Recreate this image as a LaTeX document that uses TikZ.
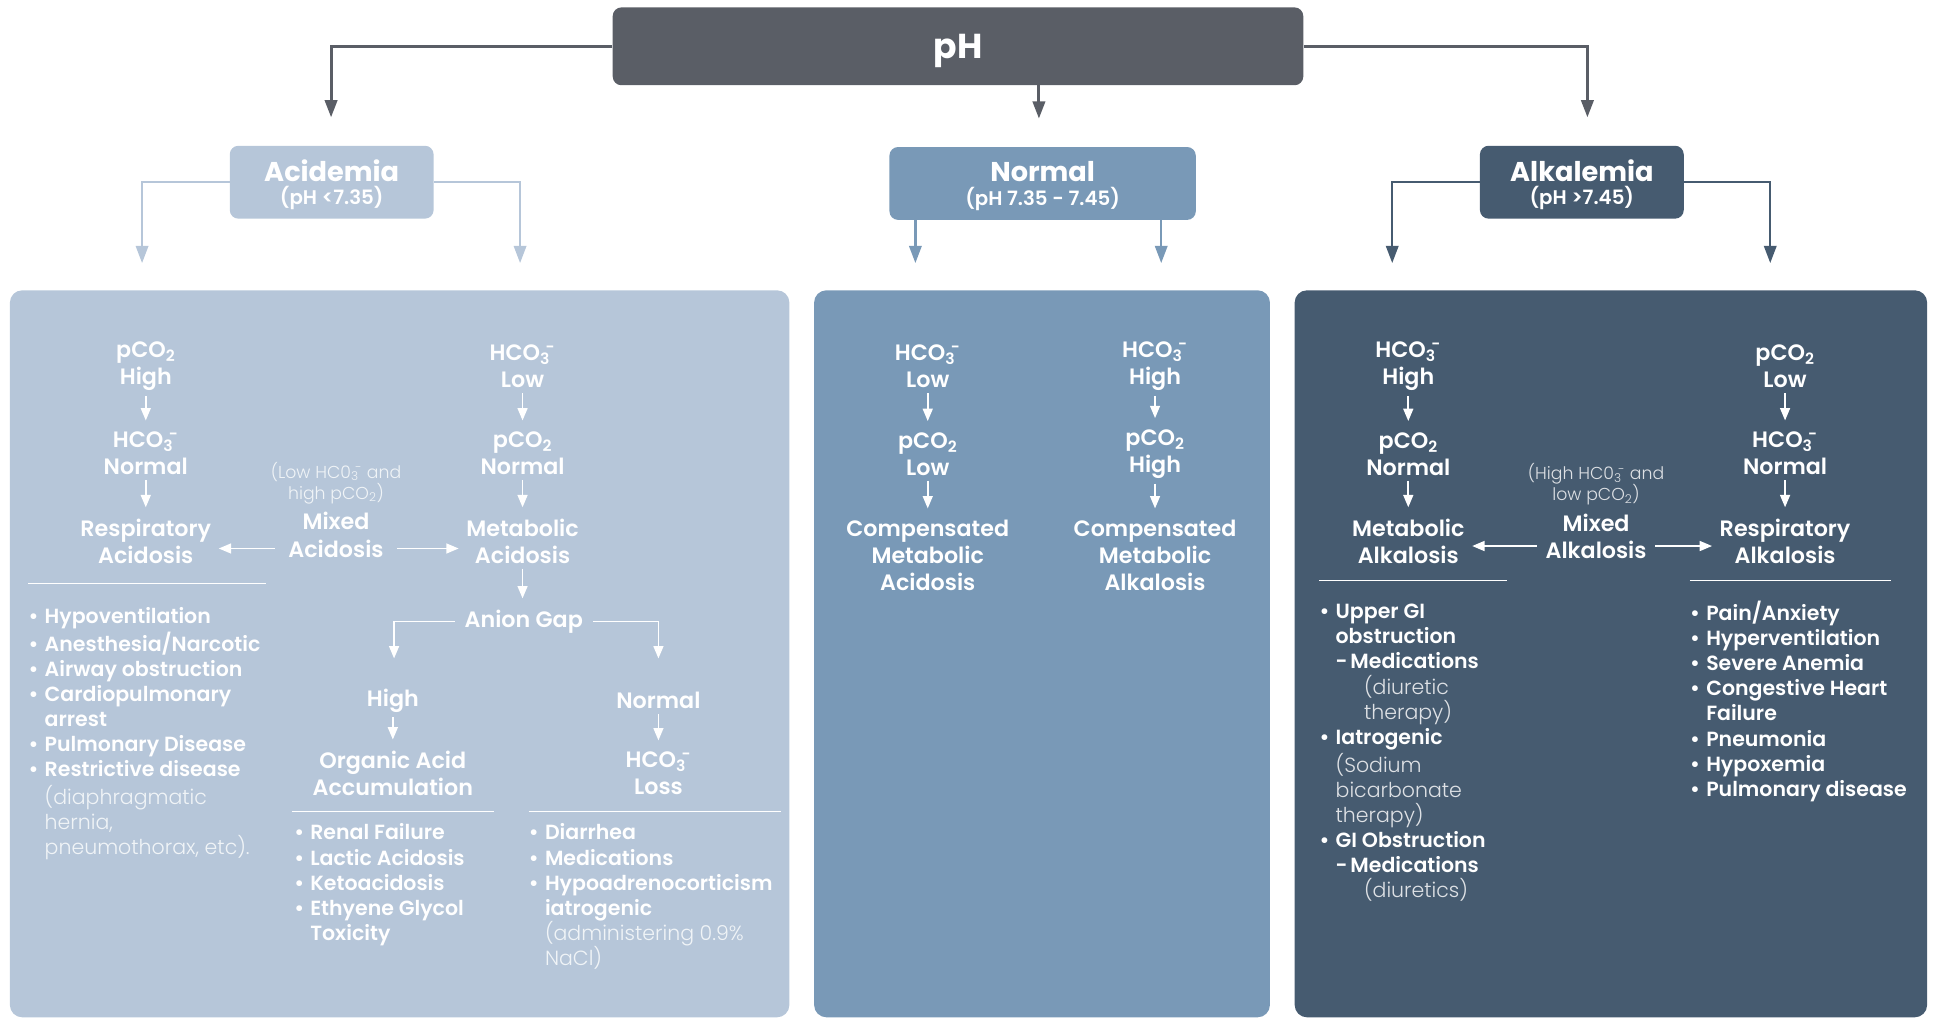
\documentclass[tikz,border=0pt]{standalone}
\usepackage{fontspec}
\setmainfont{Poppins}[UprightFont=* SemiBold, BoldFont=* Bold]
\newfontfamily\lightfont{Poppins Light}
\usetikzlibrary{arrows.meta}
\definecolor{phgray}{RGB}{90,94,102}
\definecolor{acidc}{RGB}{182,198,217}
\definecolor{normc}{RGB}{121,153,183}
\definecolor{alkc}{RGB}{70,91,112}
\newcommand\hcoo{HCO\textsubscript{3}\kern-0.2em\textsuperscript{-}}
\newcommand\pcoo{pCO\textsubscript{2}}
\newcommand\bul{\strut\makebox[13pt][l]{•}}
\newcommand\ind{\hspace*{13pt}}
\newcommand\softl[1]{{\lightfont\color{white!80!acidc}#1}}
\newcommand\softd[1]{{\lightfont\color{white!82!alkc}#1}}
\newcommand\hsub[1]{{\mdseries\fontsize{16}{18}\selectfont #1}}
\tikzset{
  hdr/.style={rounded corners=7pt, text=white, align=center, minimum height=59pt,
    text depth=0pt, font=\fontsize{22}{22}\selectfont\bfseries},
  panel/.style={rounded corners=10pt},
  col/.style={align=center, text=white, inner sep=1pt, font=\fontsize{18}{22}\selectfont},
  note/.style={align=center, inner sep=0pt, font=\lightfont\fontsize{14}{17}\selectfont},
  lst/.style={align=left, anchor=north west, inner sep=0pt, text=white,
    font=\fontsize{16.6}{20.3}\selectfont},
  pharr/.style={draw=phgray, line width=2.4pt, -{Triangle[width=10pt,length=14pt]}},
  subarr/.style={line width=2pt, -{Triangle[width=10pt,length=14pt]}},
  warr/.style={draw=white, line width=1.4pt, -{Triangle[width=8pt,length=10pt]}},
  varr/.style={warr, shorten <=3pt, shorten >=8pt},
  sepl/.style={draw=white, line width=0.9pt}
}
\begin{document}
\begin{tikzpicture}[x=1pt,y=-1pt]
\useasboundingbox (0,0) rectangle (1568,824);
\node[hdr, fill=phgray, minimum width=559pt, minimum height=63pt,
  font=\fontsize{28}{30}\selectfont\bfseries] (ph) at (775.5,37.5) {pH};
\node[hdr, fill=acidc, minimum width=165pt] (acid) at (268.5,147.5) {Acidemia\\[-3pt]\hsub{(pH <7.35)}};
\node[hdr, fill=normc, minimum width=248pt] (norm) at (844,148.5) {Normal\\[-3pt]\hsub{(pH 7.35 - 7.45)}};
\node[hdr, fill=alkc, minimum width=165pt] (alk) at (1280.5,147.5) {Alkalemia\\[-3pt]\hsub{(pH >7.45)}};
\coordinate (e1) at (268,95);
\coordinate (e2) at (841,96);
\coordinate (e3) at (1285,95);
\draw[pharr] (ph.west) -| (e1);
\draw[pharr] (ph.south -| e2) -- (e2);
\draw[pharr] (ph.east) -| (e3);
\coordinate (a1) at (115,213);
\coordinate (a2) at (421,213);
\coordinate (n1) at (741,213);
\coordinate (n2) at (940,213);
\coordinate (k1) at (1127,213);
\coordinate (k2) at (1433,213);
\draw[subarr, draw=acidc, color=acidc] (acid.west) -| (a1);
\draw[subarr, draw=acidc, color=acidc] (acid.east) -| (a2);
\draw[subarr, draw=normc, color=normc] (norm.south -| n1) -- (n1);
\draw[subarr, draw=normc, color=normc] (norm.south -| n2) -- (n2);
\draw[subarr, draw=alkc, color=alkc] (alk.west) -| (k1);
\draw[subarr, draw=alkc, color=alkc] (alk.east) -| (k2);

\fill[acidc, panel] (8,235) rectangle (639,823.5);
\fill[normc, panel] (659,235) rectangle (1028,823.5);
\fill[alkc, panel] (1048,235) rectangle (1560,823.5);

\node[col] (ra1) at (118,296.5) {\pcoo\\High};
\node[col] (ra2) at (118,367) {\hcoo\\Normal};
\node[col] (ra3) at (118,438) {Respiratory\\Acidosis};
\node[col] (ma1) at (423,296.5) {\hcoo\\Low};
\node[col] (ma2) at (423,367) {\pcoo\\Normal};
\node[col] (ma3) at (423,438) {Metabolic\\Acidosis};
\node[note, text=white!80!acidc] (mxn) at (272,391) {(Low HC0\textsubscript{3}\kern-0.2em\textsuperscript{-} and\\high \pcoo)};
\node[col] (mx) at (272,433) {Mixed\\Acidosis};
\node[col] (gap) at (424,503) {Anion Gap};
\node[col] (hi) at (318,567) {High};
\node[col] (oa) at (318,626) {Organic Acid\\Accumulation};
\node[col] (nm) at (533,567) {Normal};
\node[col] (hl) at (533,626) {\hcoo\\Loss};
\foreach \a/\b in {ra1/ra2,ra2/ra3,ma1/ma2,ma2/ma3,hi/oa,nm/hl}
  \draw[varr] (\a) -- (\b);
\draw[varr] (ma3.south) -- (ma3.south |- gap.north);
\coordinate (mxa) at ([yshift=-11pt]mx.west);
\coordinate (mxb) at ([yshift=-11pt]mx.east);
\draw[warr, shorten <=10pt, shorten >=5pt] (mxa) -- (mxa -| ra3.east);
\draw[warr, shorten <=10pt, shorten >=5pt] (mxb) -- (mxb -| ma3.west);
\coordinate (g1) at (319,533);
\coordinate (g2) at (533,533);
\draw[warr, shorten <=7pt] (gap.west) -| (g1);
\draw[warr, shorten <=7pt] (gap.east) -| (g2);
\draw[sepl] (23,472) -- (215,472);
\draw[sepl] (236,657) -- (400,657);
\draw[sepl] (428,657) -- (632,657);
\node[lst] (rl) at (23,490) {\bul Hypoventilation\\\bul Anesthesia/Narcotic\\\bul Airway obstruction\\
  \bul Cardiopulmonary\\\ind arrest\\\bul Pulmonary Disease\\\bul Restrictive disease\\
  \ind\softl{(diaphragmatic}\\\ind\softl{hernia,}\\\ind\softl{pneumothorax, etc).}};
\node[lst] (ol) at (238,665.5) {\bul Renal Failure\\\bul Lactic Acidosis\\\bul Ketoacidosis\\
  \bul Ethyene Glycol\\\ind Toxicity};
\node[lst] (hll) at (428,665.5) {\bul Diarrhea\\\bul Medications\\\bul Hypoadrenocorticism\\
  \ind iatrogenic\\\ind\softl{(administering 0.9\%}\\\ind\softl{NaCl)}};

\node[col] (ca1) at (751,296.5) {\hcoo\\Low};
\node[col] (ca2) at (751,367.5) {\pcoo\\Low};
\node[col] (ca3) at (751,449.5) {Compensated\\Metabolic\\Acidosis};
\node[col] (cb1) at (935,296.5) {\hcoo\\High};
\node[col] (cb2) at (935,367.5) {\pcoo\\High};
\node[col] (cb3) at (935,449.5) {Compensated\\Metabolic\\Alkalosis};
\foreach \a/\b in {ca1/ca2,ca2/ca3,cb1/cb2,cb2/cb3}
  \draw[varr] (\a) -- (\b);

\node[col] (mk1) at (1140,296.5) {\hcoo\\High};
\node[col] (mk2) at (1140,367.5) {\pcoo\\Normal};
\node[col] (mk3) at (1140,438) {Metabolic\\Alkalosis};
\node[col] (rk1) at (1445,296.5) {\pcoo\\Low};
\node[col] (rk2) at (1445,367) {\hcoo\\Normal};
\node[col] (rk3) at (1445,438) {Respiratory\\Alkalosis};
\node[note, text=white!82!alkc] (mkn) at (1292,392) {(High HC0\textsubscript{3}\kern-0.2em\textsuperscript{-} and\\low \pcoo)};
\node[col] (mk) at (1292,434) {Mixed\\Alkalosis};
\foreach \a/\b in {mk1/mk2,mk2/mk3,rk1/rk2,rk2/rk3}
  \draw[varr] (\a) -- (\b);
\coordinate (mka) at ([yshift=-8pt]mk.west);
\coordinate (mkb) at ([yshift=-8pt]mk.east);
\draw[warr, shorten <=6pt, shorten >=5pt] (mka) -- (mka -| mk3.east);
\draw[warr, shorten <=6pt, shorten >=5pt] (mkb) -- (mkb -| rk3.west);
\draw[sepl] (1068,470) -- (1220,470);
\draw[sepl] (1368,470) -- (1531,470);
\node[lst] (mkl) at (1068,486.5) {\bul Upper GI\\\ind obstruction\\
  \ind\makebox[12pt][l]{-}Medications\\\ind\hspace*{23pt}\softd{(diuretic}\\\ind\hspace*{23pt}\softd{therapy)}\\
  \bul Iatrogenic\\\ind\softd{(Sodium}\\\ind\softd{bicarbonate}\\\ind\softd{therapy)}\\
  \bul GI Obstruction\\\ind\makebox[12pt][l]{-}Medications\\\ind\hspace*{23pt}\softd{(diuretics)}};
\node[lst] (rkl) at (1368,486.5) {\bul Pain/Anxiety\\\bul Hyperventilation\\\bul Severe Anemia\\
  \bul Congestive Heart\\\ind Failure\\\bul Pneumonia\\\bul Hypoxemia\\\bul Pulmonary disease};
\end{tikzpicture}
\end{document}
